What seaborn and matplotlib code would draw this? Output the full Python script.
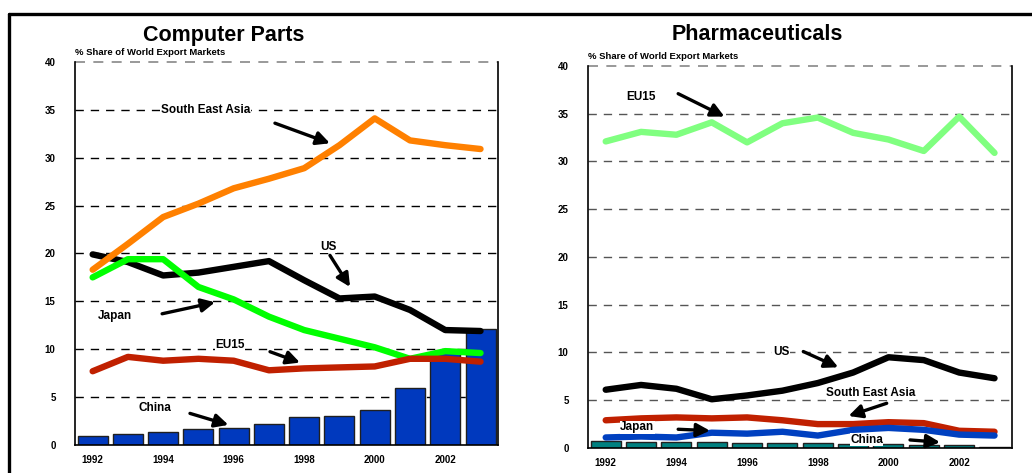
import numpy as np
import pandas as pd
import matplotlib
matplotlib.use("Agg")
import matplotlib.pyplot as plt
import seaborn as sns

years = list(range(1992, 2004))

# Computer Parts (% share of world export markets)
cp_sea = [18.3, 21.0, 23.8, 25.2, 26.8, 27.8, 28.9, 31.3, 34.1, 31.8, 31.3, 30.9]
cp_us = [19.9, 19.1, 17.7, 18.0, 18.6, 19.2, 17.2, 15.3, 15.5, 14.1, 12.0, 11.9]
cp_japan = [17.5, 19.4, 19.4, 16.5, 15.2, 13.4, 12.0, 11.1, 10.2, 9.0, 9.8, 9.6]
cp_eu15 = [7.7, 9.2, 8.8, 9.0, 8.8, 7.8, 8.0, 8.1, 8.2, 9.0, 9.0, 8.7]
cp_china = [0.9, 1.2, 1.4, 1.7, 1.8, 2.2, 2.9, 3.0, 3.7, 5.9, 9.7, 12.1]

# Pharmaceuticals
ph_eu15 = [32.1, 33.1, 32.8, 34.1, 32.0, 34.0, 34.6, 33.0, 32.3, 31.1, 34.7, 30.9]
ph_us = [6.1, 6.6, 6.2, 5.1, 5.5, 6.0, 6.8, 7.9, 9.5, 9.2, 7.9, 7.3]
ph_sea = [2.9, 3.1, 3.2, 3.1, 3.2, 2.9, 2.5, 2.5, 2.7, 2.6, 1.8, 1.7]
ph_japan = [1.1, 1.2, 1.1, 1.6, 1.5, 1.7, 1.3, 1.9, 2.1, 1.9, 1.4, 1.3]
ph_china = [0.75, 0.65, 0.65, 0.65, 0.55, 0.5, 0.5, 0.4, 0.4, 0.3, 0.3, 0.15]

sns.set_style("white")
plt.rcParams['font.family'] = ['Liberation Sans', 'DejaVu Sans']
plt.rcParams['font.weight'] = 'bold'
plt.rcParams['text.color'] = 'black'
plt.rcParams['xtick.color'] = 'black'
plt.rcParams['ytick.color'] = 'black'

fig = plt.figure(figsize=(10.32, 4.73), dpi=100)
ax1 = fig.add_axes([0.0727, 0.0592, 0.410, 0.810])
ax2 = fig.add_axes([0.5698, 0.0529, 0.411, 0.8076])

# frame lines around the slide
fig.add_artist(plt.Line2D([0.0087, 1.0], [0.970, 0.970], color='black', lw=2.4))
fig.add_artist(plt.Line2D([0.0087, 0.0087], [0.0, 0.970], color='black', lw=2.4))


def draw_panel(ax, title, title_x, china, china_col, lines, grid_col):
    df = pd.DataFrame({'year': years, 'china': china})
    sns.barplot(data=df, x='year', y='china', native_scale=True, width=0.85,
                color=china_col, edgecolor='#202020', linewidth=1.0,
                saturation=1, ax=ax, zorder=2)
    for vals, col in lines:
        d = pd.DataFrame({'year': years, 'v': vals})
        sns.lineplot(data=d, x='year', y='v', color=col, lw=4.6,
                     solid_capstyle='round', solid_joinstyle='round',
                     ax=ax, zorder=3)
    ax.set_xlim(1991.5, 2003.5)
    ax.set_ylim(0, 40)
    ax.set_yticks(range(0, 41, 5))
    ax.set_xticks(range(1992, 2003, 2))
    ax.set_xticklabels([str(y) for y in range(1992, 2003, 2)], fontsize=7,
                       fontweight='bold')
    ax.set_yticklabels([str(v) for v in range(0, 41, 5)], fontsize=7,
                       fontweight='bold')
    ax.tick_params(axis='y', length=0, pad=14)
    ax.tick_params(axis='x', length=0, pad=7)
    ax.set_xlabel('')
    ax.set_ylabel('')
    for v in range(5, 36, 5):
        ax.axhline(v, color=grid_col, lw=1, ls=(0, (6, 5)), zorder=1)
    ax.axhline(40, color='#888888', lw=1.2, ls=(0, (6, 5)), zorder=1,
               clip_on=False)
    ax.spines['top'].set_visible(False)
    for s in ['left', 'right', 'bottom']:
        ax.spines[s].set_color('black')
        ax.spines[s].set_linewidth(1.2)
    ax.text(0, 1.012, '% Share of World Export Markets', transform=ax.transAxes,
            fontsize=6.8, fontweight='bold', ha='left', va='bottom')
    fig.text(title_x, 1 - 35 / 473, title, fontsize=15.5, fontweight='bold',
             ha='center', va='center')


draw_panel(ax1, 'Computer Parts', 224 / 1032, cp_china, '#0039BE',
           [(cp_us, 'black'), (cp_japan, '#00FF00'),
            (cp_eu15, '#C02000'), (cp_sea, '#FF8000')], 'black')
draw_panel(ax2, 'Pharmaceuticals', 757 / 1032, ph_china, '#008080',
           [(ph_eu15, '#80FF80'), (ph_us, 'black'),
            (ph_sea, '#C02000'), (ph_japan, '#0040C0')], '#555555')

arrow = dict(arrowstyle='-|>,head_length=0.8,head_width=0.4', color='black',
             lw=2.4, shrinkA=0, shrinkB=0)


def label(ax, text, txy, tail, head):
    ax.text(txy[0], txy[1], text, fontsize=8.5, fontweight='bold', ha='center',
            va='center', zorder=5,
            bbox=dict(facecolor='white', edgecolor='none', pad=0.3))
    ax.annotate('', xy=head, xytext=tail, arrowprops=arrow, zorder=5)


label(ax1, 'South East Asia', (1995.2, 35.0), (1997.17, 33.6), (1998.73, 31.5))
label(ax1, 'US', (1998.68, 20.7), (1998.73, 19.8), (1999.3, 16.5))
label(ax1, 'Japan', (1992.63, 13.5), (1993.97, 13.7), (1995.47, 14.9))
label(ax1, 'EU15', (1995.9, 10.4), (1997.03, 9.74), (1997.88, 8.6))
label(ax1, 'China', (1993.77, 3.9), (1994.76, 3.3), (1995.85, 2.1))

label(ax2, 'EU15', (1993.0, 36.8), (1994.05, 37.1), (1995.36, 34.7))
label(ax2, 'US', (1996.96, 10.1), (1997.59, 10.1), (1998.58, 8.45))
label(ax2, 'South East Asia', (1999.51, 5.73), (1999.95, 4.68), (1998.87, 3.35))
label(ax2, 'Japan', (1992.89, 2.17), (1994.05, 1.96), (1994.95, 1.81))
label(ax2, 'China', (1999.38, 0.84), (2000.61, 0.84), (2001.46, 0.6))

plt.savefig('out.png', dpi=100)
